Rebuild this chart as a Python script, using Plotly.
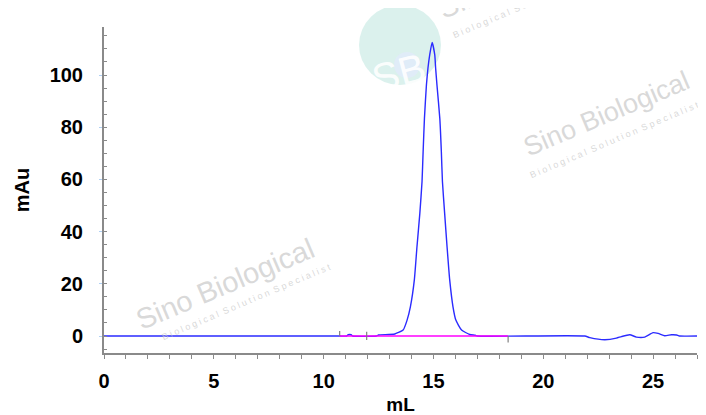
import plotly.graph_objects as go

# ---------------- data ----------------
trace_ml = [0, 10.73, 11.05, 11.12, 11.25, 11.32, 12.40, 12.50, 13.24, 13.62, 13.80, 13.95,
            14.13, 14.25, 14.38, 14.48, 14.53, 14.59, 14.68, 14.75, 14.83, 14.94, 15.06, 15.10,
            15.16, 15.29, 15.36, 15.41, 15.51, 15.62, 15.74, 15.89, 16.02, 16.28, 16.65, 16.90,
            17.00, 21.89, 22.12, 22.80, 23.33, 23.56, 23.94, 24.24, 24.62, 25.00, 25.23, 25.53,
            25.84, 26.07, 26.20, 27.00]
trace_mau = [0, 0, 0, 0.5, 0.5, 0, 0, 0.4, 0.8, 2.3, 6.1, 11.2,
             21.5, 34.2, 47.0, 59.1, 70.6, 83.4, 96.2, 102.6, 107.7, 112.5, 107.7, 102.6,
             96.2, 83.4, 70.6, 59.1, 47.0, 34.2, 21.5, 11.2, 6.1, 2.3, 0.6, 0.3,
             0, 0, -0.6, -1.4, -0.8, -0.2, 0.5, -0.4, -0.4, 1.3, 1.0, 0.1,
             0.5, 0.4, 0, 0]

baseline_ml = [10.73, 18.40]
baseline_mau = [0, 0]

frac_ml = [10.73, 11.96, 18.40]
frac_lo = [0, -1.5, -2.5]
frac_hi = [1.9, 1.6, 0]

x_ticks = [0, 5, 10, 15, 20, 25]
y_ticks = [0, 20, 40, 60, 80, 100]

# ---------------- figure ----------------
# the page body has an 8px margin, so the figure is made 8px smaller and the
# plot area is placed so it lands at the reference pixel positions
OFF = 8
W, H = 706 - OFF, 415 - OFF
PX0, PX1, PY0, PY1 = 104, 697, 27, 353          # plot area in page pixels
ML, MT = PX0 - OFF, PY0 - OFF
MR, MB = W - (PX1 - OFF), H - (PY1 - OFF)
PW, PH = PX1 - PX0, PY1 - PY0


def px(x):
    return (x - PX0) / PW


def py(y):
    return (PY1 - y) / PH


fig = go.Figure()

fx, fy = [], []
for m, lo, hi in zip(frac_ml, frac_lo, frac_hi):
    fx += [m, m, None]
    fy += [lo, hi, None]

fig.add_trace(go.Scatter(x=trace_ml, y=trace_mau, mode="lines",
                         line=dict(color="#2b2bff", width=1.4, shape="spline", smoothing=0.5),
                         hoverinfo="skip"))
fig.add_trace(go.Scatter(x=baseline_ml, y=baseline_mau, mode="lines",
                         line=dict(color="#ff00ff", width=1.6), hoverinfo="skip"))
fig.add_trace(go.Scatter(x=fx, y=fy, mode="lines",
                         line=dict(color="#808080", width=1.2), hoverinfo="skip"))

FAM = "Liberation Sans, Arial, sans-serif"
tickfont = dict(family=FAM, size=20, color="black", weight="bold")

fig.update_layout(
    width=W, height=H,
    margin=dict(l=ML, r=MR, t=MT, b=MB, pad=0, autoexpand=False),
    paper_bgcolor="white", plot_bgcolor="white",
    showlegend=False,
    xaxis=dict(range=[0, 27], tickvals=x_ticks, showgrid=False, zeroline=False,
               automargin=False,
               showline=True, linecolor="#8a8a8a", linewidth=2,
               ticks="outside", ticklen=4, tickcolor="#8a8a8a", tickwidth=1,
               minor=dict(dtick=1, ticks="outside", ticklen=4, tickcolor="#8a8a8a"),
               tickfont=tickfont, ticklabelstandoff=5,
               title=dict(text="mL", font=dict(family=FAM, size=19, color="black", weight="bold"),
                          standoff=16)),
    yaxis=dict(range=[-6.5, 118.4], tickvals=y_ticks, showgrid=False, zeroline=False,
               automargin=False,
               showline=True, linecolor="#8a8a8a", linewidth=2,
               ticks="outside", ticklen=3, tickcolor="#b0d0f4", tickwidth=1,
               minor=dict(dtick=5, ticks="inside", ticklen=3, tickcolor="#8a8a8a"),
               tickfont=tickfont, ticklabelstandoff=12,
               title=dict(text="mAu", font=dict(family=FAM, size=20, color="black", weight="bold"),
                          standoff=15)),
)

# ---------------- watermarks ----------------
wm_font = dict(family=FAM, color="rgba(200,200,200,0.7)")
ann = []
for (cx, cy, sx, sy, fs) in [(225, 284, 246, 302, 29), (606, 114, 614, 140, 27),
                             (527, -27, 537, 0, 29)]:
    ann.append(dict(x=px(cx), y=py(cy), xref="paper", yref="paper", text="Sino Biological",
                    showarrow=False, textangle=-23, font=dict(size=fs, **wm_font),
                    xanchor="center", yanchor="middle"))
    ann.append(dict(x=px(sx), y=py(sy), xref="paper", yref="paper",
                    text="B i o l o g i c a l  S o l u t i o n  S p e c i a l i s t",
                    showarrow=False, textangle=-23, font=dict(size=9, **wm_font),
                    xanchor="center", yanchor="middle"))

# SB logo
fig.add_shape(type="circle", xref="paper", yref="paper",
              x0=px(359), x1=px(441), y0=py(85), y1=py(5),
              fillcolor="rgba(175,225,215,0.45)", line=dict(width=0), layer="below")
fig.add_shape(type="circle", xref="paper", yref="paper",
              x0=px(394), x1=px(420), y0=py(78), y1=py(52),
              fillcolor="rgba(225,235,250,0.8)", line=dict(width=0), layer="below")
ann.append(dict(x=px(398), y=py(42), xref="paper", yref="paper", text="SB", showarrow=False,
                textangle=-15, font=dict(family=FAM, size=40, color="rgba(255,255,255,0.9)")))
fig.update_layout(annotations=ann)

fig.write_html("out.html")
